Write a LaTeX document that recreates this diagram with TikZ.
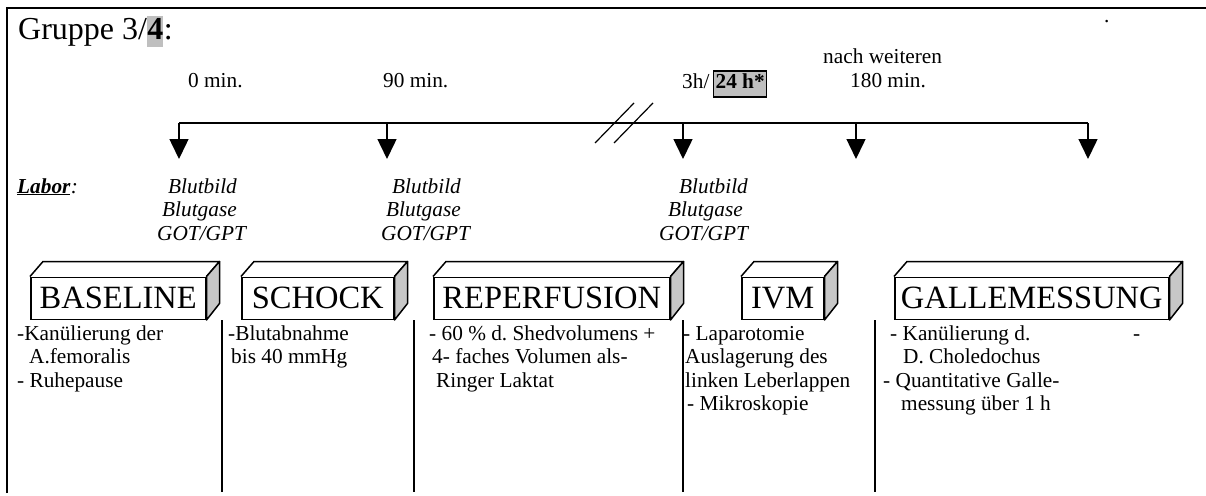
\documentclass[tikz,border=0pt]{standalone}
\usepackage{fontspec}
\setmainfont{Liberation Serif}
\usetikzlibrary{arrows.meta,calc}
\frenchspacing
\begin{document}
\begin{tikzpicture}[x=1pt,y=-1pt,
  txt/.style={anchor=base west, inner sep=0, font=\fontsize{21.3}{23.5}\selectfont},
  itxt/.style={anchor=base west, inner sep=0, font=\fontsize{21.3}{23.5}\selectfont\itshape},
  front/.style={draw, line width=1.5, anchor=south west, minimum height=42, inner sep=0, font=\fontsize{32.5}{38}\selectfont},
  boxline/.style={line width=1.5, line join=round},
  sideface/.style={boxline, fill=black!22},
  arr/.style={line width=1.5, -{Triangle[width=19pt,length=20pt]}},
  sep/.style={line width=1.5}
]
\useasboundingbox (0,0) rectangle (1206,495);
% frame
\draw[line width=2] (7,493) -- (7,8) -- (1206,8);
% title
\node[anchor=base west, inner sep=0, font=\fontsize{32}{38}\selectfont] (g1) at (18,40) {Gruppe 3/};
\node[anchor=base west, inner xsep=0, inner ysep=0, text height=24, text depth=7, fill=black!25, font=\fontsize{32}{38}\selectfont\bfseries] (g2) at (g1.base east) {4};
\node[anchor=base west, inner sep=0, font=\fontsize{32}{38}\selectfont] (g3) at (g2.base east) {:};
\node[txt] (dot) at (1104,23) {.};
% time labels
\node[txt] (t0) at (188,87) {0 min.};
\node[txt] (t90) at (383,87) {90 min.};
\node[txt] (t3h) at (682,88) {3h/};
\node[anchor=base west, draw, line width=1.2, fill=black!25, inner sep=2, text height=15, text depth=7, font=\fontsize{21.3}{23.5}\selectfont\bfseries] (t24) at (713,88) {24 h*};
\node[txt] (tn) at (823,63.5) {nach weiteren};
\node[txt] (t180) at (850,87) {180 min.};
% timeline
\coordinate (p1) at (179,123); \coordinate (q1) at (179,159);
\coordinate (p2) at (387,123); \coordinate (q2) at (387,159);
\coordinate (p3) at (683,123); \coordinate (q3) at (683,159);
\coordinate (p4) at (856,123); \coordinate (q4) at (856,159);
\coordinate (p5) at (1088,123); \coordinate (q5) at (1088,159);
\draw[line width=1.5] (p1) -- (p5);
\foreach \i in {1,...,5} \draw[arr] (p\i) -- (q\i);
% break mark
\draw[line width=1.2] (595,143) -- (634,103);
\draw[line width=1.2] (614,143) -- (653,103);
% Labor
\node[itxt, font=\fontsize{21.3}{23.5}\selectfont\bfseries\itshape] (labor) at (17,193) {\underline{Labor}};
\node[itxt] (laborc) at (labor.base east) {:};
\node[itxt] (l1a) at (168,193) {Blutbild};
\node[itxt] (l1b) at (162,216.5) {Blutgase};
\node[itxt] (l1c) at (157,240) {GOT/GPT};
\node[itxt] (l2a) at (392,193) {Blutbild};
\node[itxt] (l2b) at (386,216.5) {Blutgase};
\node[itxt] (l2c) at (381,240) {GOT/GPT};
\node[itxt] (l3a) at (679,193) {Blutbild};
\node[itxt] (l3b) at (668,216.5) {Blutgase};
\node[itxt] (l3c) at (659,240) {GOT/GPT};
% 3D boxes
\foreach \n/\x/\w/\t in {b1/30/175/BASELINE, b2/241/152/SCHOCK, b3/433/236/REPERFUSION, b4/741/82/IVM, b5/894/274/GALLEMESSUNG}{
  \node[front, minimum width=\w] (\n) at (\x,320) {\t};
  \draw[boxline] (\n.north west) -- ++(13,-15) -- ($(\n.north east)+(13,-15)$) -- (\n.north east);
  \draw[sideface] (\n.north east) -- ++(13,-15) -- ++(0,42) -- (\n.south east) -- cycle;
}
% separators
\foreach \x in {222,414,683,875} \draw[sep] (\x,320) -- (\x,492);
% column texts
\node[txt] (c1a) at (17,340) {-Kanülierung der};
\node[txt] (c1b) at (29,363.5) {A.femoralis};
\node[txt] (c1c) at (17,387) {- Ruhepause};
\node[txt] (c2a) at (228,340) {-Blutabnahme};
\node[txt] (c2b) at (231,363.5) {bis 40 mmHg};
\node[txt] (c3a) at (429,340) {- 60 \% d. Shedvolumens +};
\node[txt] (c3b) at (432,363.5) {4- faches Volumen als-};
\node[txt] (c3c) at (436,387) {Ringer Laktat};
\node[txt] (c4a) at (683,340) {- Laparotomie};
\node[txt] (c4b) at (685,363.5) {Auslagerung des};
\node[txt] (c4c) at (685,387) {linken Leberlappen};
\node[txt] (c4d) at (687,410.5) {- Mikroskopie};
\node[txt] (c5a) at (890,340) {- Kanülierung d.};
\node[txt] (c5b) at (903,363.5) {D. Choledochus};
\node[txt] (c5c) at (883,387) {- Quantitative Galle-};
\node[txt] (c5d) at (901,410.5) {messung über 1 h};
\node[txt] (c5e) at (1133,340) {-};
\end{tikzpicture}
\end{document}
